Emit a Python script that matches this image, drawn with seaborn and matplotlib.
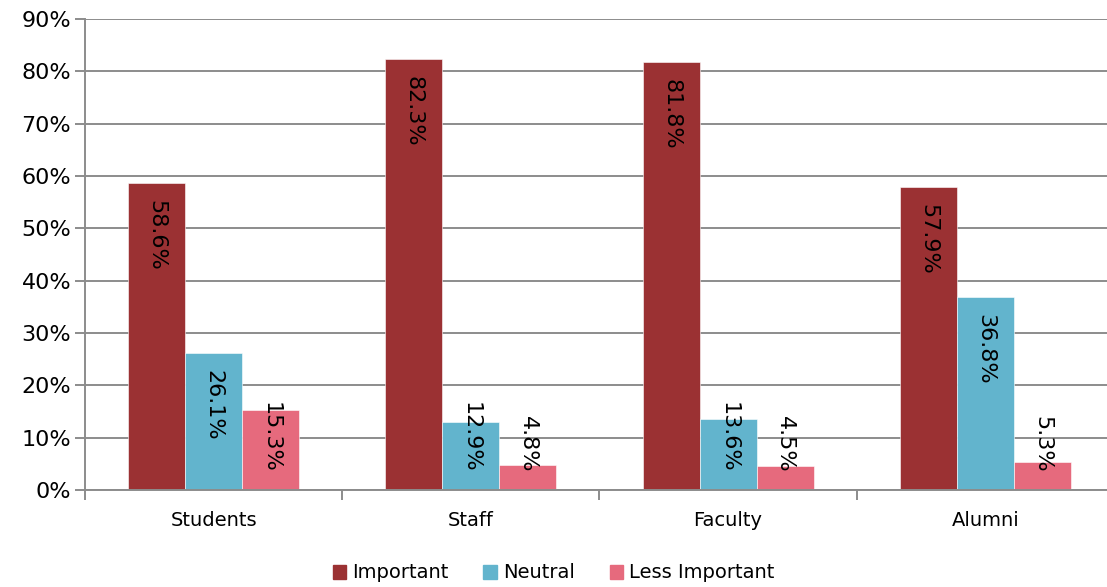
import numpy as np
import pandas as pd
import seaborn as sns
import matplotlib.pyplot as plt
from matplotlib.ticker import PercentFormatter, FixedLocator
from matplotlib.patches import Patch

groups = ["Students", "Staff", "Faculty", "Alumni"]
responses = ["Important", "Neutral", "Less Important"]
important = [58.6, 82.3, 81.8, 57.9]
neutral = [26.1, 12.9, 13.6, 36.8]
less_important = [15.3, 4.8, 4.5, 5.3]
colors = ["#9B3133", "#62B4CD", "#E66A7D"]

df = pd.DataFrame({
    "group": groups * 3,
    "response": [r for r in responses for _ in groups],
    "value": important + neutral + less_important,
})

sns.set_style("white")
plt.rcParams['font.family'] = ['DejaVu Sans']
plt.rcParams['text.color'] = 'black'
plt.rcParams['xtick.labelcolor'] = 'black'
plt.rcParams['ytick.labelcolor'] = 'black'

fig = plt.figure(figsize=(11.07, 5.87), dpi=100)
ax = fig.add_axes([85 / 1107, 1 - 490 / 587, 1029 / 1107, 471 / 587])

sns.barplot(data=df, x="group", y="value", hue="response", order=groups,
            hue_order=responses, palette=colors, width=0.665, ax=ax,
            saturation=1, legend=False, edgecolor="white", linewidth=0.4)

ax.set_ylim(0, 90)
ax.set_xlim(-0.5, 3.5)
ax.set_yticks(np.arange(0, 91, 10))
ax.yaxis.set_major_formatter(PercentFormatter(decimals=0))
ax.yaxis.grid(True, color="#8c8c8c", linewidth=1.4)
ax.set_axisbelow(True)
ax.tick_params(axis="y", labelsize=16, length=7, color="#8c8c8c", width=1.4, pad=3,
               left=True, labelcolor="black")
ax.tick_params(axis="x", labelsize=14, length=0, pad=15, labelcolor="black")
ax.xaxis.set_minor_locator(FixedLocator([-0.5, 0.5, 1.5, 2.5, 3.5]))
ax.tick_params(axis="x", which="minor", length=7, color="#8c8c8c", width=1.4, bottom=True)
ax.set_xlabel("")
ax.set_ylabel("")
for s in ["top", "right"]:
    ax.spines[s].set_visible(False)
for s in ["left", "bottom"]:
    ax.spines[s].set_color("#8c8c8c")
    ax.spines[s].set_linewidth(1.4)

# labels inside the bars, written top to bottom
for cont in ax.containers:
    for p in cont.patches:
        h = p.get_height()
        x = p.get_x() + p.get_width() / 2
        txt = "{:.1f}%".format(h)
        if h - 3.2 > 16.5:
            ax.text(x, h - 3.2, txt, rotation=270, rotation_mode="anchor",
                    ha="left", va="center", fontsize=16, color="black")
        else:
            ax.text(x, 3.3, txt, rotation=270, rotation_mode="anchor",
                    ha="right", va="center", fontsize=16, color="black")

handles = [Patch(color=c, label=r) for c, r in zip(colors, responses)]
fig.legend(handles=handles, loc="center", bbox_to_anchor=(0.5, 1 - 573 / 587),
           ncol=3, frameon=False, fontsize=14, handlelength=0.7, handleheight=0.7,
           handletextpad=0.3, columnspacing=1.8)

plt.savefig("out.png", dpi=100)
